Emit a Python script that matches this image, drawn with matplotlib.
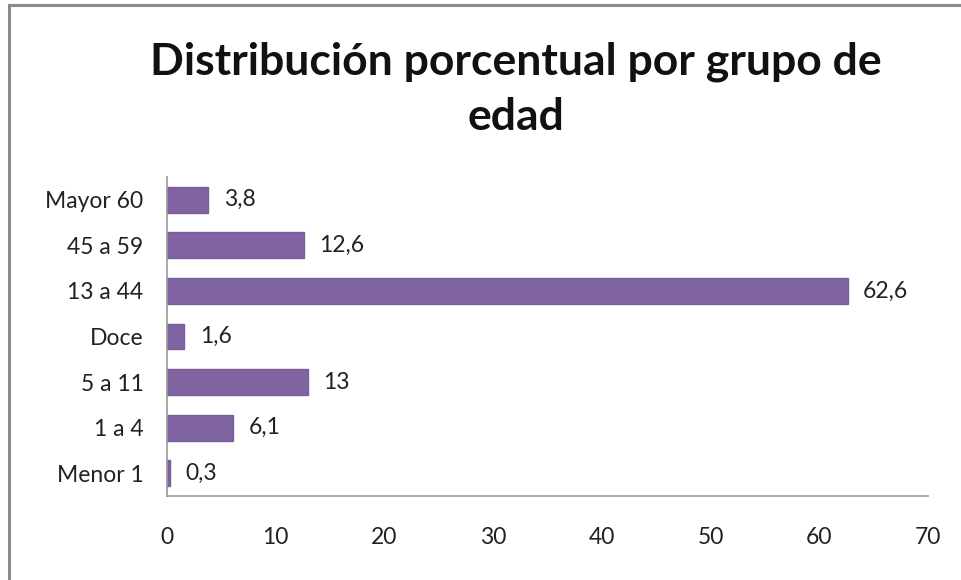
import matplotlib
matplotlib.use("Agg")
import matplotlib.pyplot as plt
from matplotlib.lines import Line2D

categories = ["Menor 1", "1 a 4", "5 a 11", "Doce", "13 a 44", "45 a 59", "Mayor 60"]
values = [0.3, 6.1, 13, 1.6, 62.6, 12.6, 3.8]
labels = ["0,3", "6,1", "13", "1,6", "62,6", "12,6", "3,8"]
xticks = [0, 10, 20, 30, 40, 50, 60, 70]

plt.rcParams['font.family'] = ['Lato', 'DejaVu Sans']

W, H = 961, 580
fig = plt.figure(figsize=(9.61, 5.8), dpi=100)
# partial frame (top and left edges only)
fig.lines.append(Line2D([9/W, 1], [1 - 5/H, 1 - 5/H], transform=fig.transFigure,
                        color='#8a8a8a', linewidth=2.2))
fig.lines.append(Line2D([9/W, 9/W], [0, 1 - 5/H], transform=fig.transFigure,
                        color='#8a8a8a', linewidth=2.2))
ax = fig.add_axes([167/W, 84/H, 761/W, 319/H])
y = range(len(categories))
ax.barh(y, values, height=0.57, color='#8064A2', edgecolor='#7A5E9C')
for yi, v, lab in zip(y, values, labels):
    ax.text(v + 1.4, yi, lab, va='center', ha='left', fontsize=16.5, color='#222222')
ax.set_xlim(0, 70)
ax.set_ylim(-0.5, len(categories) - 0.5)
ax.set_yticks(list(y))
ax.set_yticklabels(categories, fontsize=16.5, color='#222222')
ax.set_xticks(xticks)
ax.set_xticklabels([str(t) for t in xticks], fontsize=16.5, color='#222222')
ax.tick_params(axis='both', length=0)
ax.tick_params(axis='x', pad=22)
ax.tick_params(axis='y', pad=17)
for s in ['top', 'right']:
    ax.spines[s].set_visible(False)
for s in ['left', 'bottom']:
    ax.spines[s].set_color('#999999')
    ax.spines[s].set_linewidth(1.2)
fig.text(516/W, 1 - 89/H, "Distribución porcentual por grupo de\nedad", ha='center', va='center',
         fontsize=32, fontweight='bold', linespacing=1.45, color='#111111')
fig.savefig("out.png", dpi=100)
